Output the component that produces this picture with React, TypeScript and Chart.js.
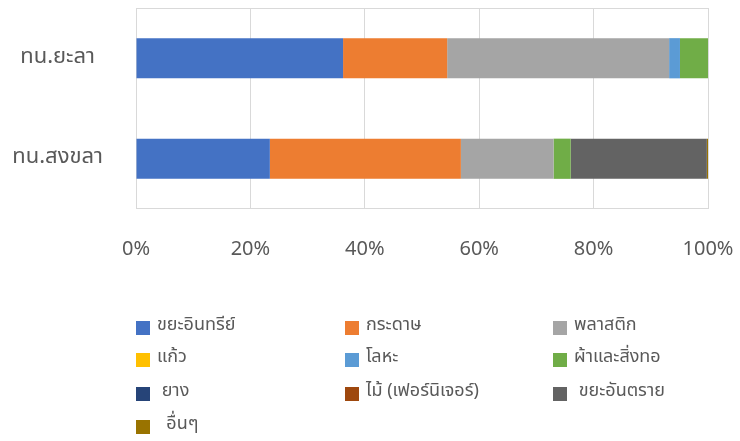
import React, { useEffect, useRef } from "react";
import { Chart, registerables } from "chart.js";

Chart.register(...registerables);

const categories = ["ทน.ยะลา", "ทน.สงขลา"];
const seriesNames = [
  "ขยะอินทรีย์",
  "กระดาษ",
  "พลาสติก",
  "แก้ว",
  "โลหะ",
  "ผ้าและสิ่งทอ",
  " ยาง",
  "ไม้ (เฟอร์นิเจอร์)",
  " ขยะอันตราย",
  "  อื่นๆ",
];
const organic = [36.2, 23.4];
const paper = [18.2, 33.4];
const plastic = [38.8, 16.2];
const glass = [0, 0];
const metal = [1.9, 0];
const textile = [4.9, 3.0];
const rubber = [0, 0];
const wood = [0, 0];
const hazardous = [0, 23.8];
const other = [0, 0.2];
const seriesValues = [organic, paper, plastic, glass, metal, textile, rubber, wood, hazardous, other];
const seriesColors = [
  "#4472C4",
  "#ED7D31",
  "#A5A5A5",
  "#FFC000",
  "#5B9BD5",
  "#70AD47",
  "#264478",
  "#9E480E",
  "#636363",
  "#997300",
];
const xTicks = [0, 20, 40, 60, 80, 100];

const FONT = "'Noto Sans Thai', 'Noto Sans', 'DejaVu Sans', sans-serif";
const TEXT = "#595959";
const GRID = "#D9D9D9";

const legendCols = [136, 345, 553];
const legendRows = [328, 360, 394, 427];

const frameAndLegend = {
  id: "frameAndLegend",
  beforeDatasetsDraw(chart: any) {
    const { ctx, chartArea } = chart;
    ctx.save();
    ctx.strokeStyle = GRID;
    ctx.lineWidth = 1;
    ctx.beginPath();
    ctx.moveTo(chartArea.left, chartArea.top + 0.5);
    ctx.lineTo(chartArea.right, chartArea.top + 0.5);
    ctx.moveTo(chartArea.left, chartArea.bottom - 0.5);
    ctx.lineTo(chartArea.right, chartArea.bottom - 0.5);
    ctx.stroke();
    ctx.restore();
  },
  afterDraw(chart: any) {
    const { ctx } = chart;
    ctx.save();
    ctx.font = `18px ${FONT}`;
    ctx.textBaseline = "middle";
    ctx.textAlign = "left";
    chart.data.datasets.forEach((ds: any, i: number) => {
      const col = i % 3;
      const row = Math.floor(i / 3);
      const x = legendCols[col];
      const y = legendRows[row];
      ctx.fillStyle = ds.backgroundColor;
      ctx.fillRect(x, y - 7, 14, 14);
      ctx.fillStyle = TEXT;
      ctx.fillText(ds.label, x + 21, y - 2);
    });
    ctx.restore();
  },
};

export default function App() {
  const ref = useRef<HTMLCanvasElement>(null);
  useEffect(() => {
    if (!ref.current) return;
    const chart = new Chart(ref.current, {
      type: "bar",
      data: {
        labels: categories,
        datasets: seriesNames.map((name, i) => ({
          label: name,
          data: seriesValues[i],
          backgroundColor: seriesColors[i],
          borderWidth: 0,
          barPercentage: 1,
          categoryPercentage: 0.4,
        })),
      },
      options: {
        indexAxis: "y",
        animation: false,
        responsive: true,
        maintainAspectRatio: false,
        layout: { padding: { top: 8, right: 32, bottom: 172, left: 0 } },
        plugins: {
          legend: { display: false },
          tooltip: { enabled: false },
        },
        scales: {
          x: {
            stacked: true,
            min: 0,
            max: 100,
            afterBuildTicks: (s: any) => {
              s.ticks = xTicks.map((v) => ({ value: v }));
            },
            afterFit: (s: any) => {
              s.height = 60;
              s.paddingLeft = 0;
              s.paddingRight = 0;
            },
            grid: { color: GRID, drawTicks: false },
            border: { display: false },
            ticks: {
              padding: 30,
              color: TEXT,
              font: { family: FONT, size: 20 },
              callback: (v: any) => `${v}%`,
            },
          },
          y: {
            stacked: true,
            afterFit: (s: any) => {
              s.width = 136;
              s.paddingTop = 0;
              s.paddingBottom = 0;
            },
            grid: { display: false, drawTicks: false },
            border: { display: false },
            ticks: {
              padding: 33,
              crossAlign: "center",
              color: TEXT,
              font: { family: FONT, size: 22 },
            },
          },
        },
      },
      plugins: [frameAndLegend],
    });
    return () => chart.destroy();
  }, []);
  return (
    <div style={{ position: "fixed", left: 0, top: 0, width: 740, height: 441, background: "#fff" }}>
      <canvas ref={ref} />
    </div>
  );
}
